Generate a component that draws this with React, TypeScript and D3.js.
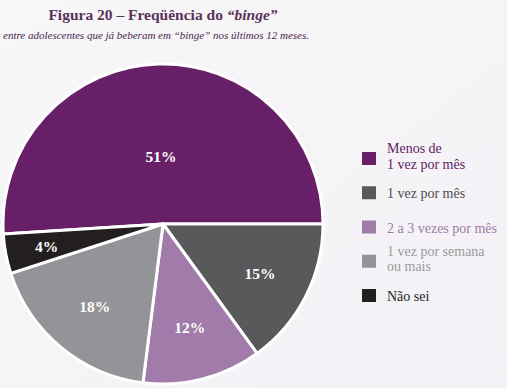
import React, { useEffect, useRef } from "react";
import * as d3 from "d3";

const categories = [
  "Menos de 1 vez por mês",
  "1 vez por mês",
  "2 a 3 vezes por mês",
  "1 vez por semana ou mais",
  "Não sei",
];
const legendLines = [
  ["Menos de", "1 vez por mês"],
  ["1 vez por mês"],
  ["2 a 3 vezes por mês"],
  ["1 vez por semana", "ou mais"],
  ["Não sei"],
];
const values = [51, 15, 12, 18, 4];
const colors = ["#672068", "#59595b", "#a17ba9", "#939497", "#231f20"];
const textColors = ["#5e1e61", "#4d4d4f", "#a07ba8", "#9a9a9d", "#231f20"];

// label distance as fraction of radius
const labelRatio = [0.42, 0.68, 0.67, 0.67, 0.74];

const serif = "'Liberation Serif', 'Times New Roman', serif";

export default function App() {
  const ref = useRef<SVGSVGElement>(null);

  useEffect(() => {
    const width = 507;
    const height = 388;
    const svg = d3.select(ref.current);
    svg.selectAll("*").remove();

    const defs = svg.append("defs");
    const grad = defs.append("linearGradient").attr("id", "bg").attr("x1", 0).attr("y1", 0).attr("x2", 1).attr("y2", 1);
    grad.append("stop").attr("offset", "0%").attr("stop-color", "#f7f6f8");
    grad.append("stop").attr("offset", "100%").attr("stop-color", "#f3f1f5");

    svg.append("rect").attr("width", width).attr("height", height).attr("fill", "url(#bg)");

    svg.append("text")
      .attr("x", 163)
      .attr("y", 20)
      .attr("text-anchor", "middle")
      .style("font-family", serif)
      .attr("font-size", 15.5)
      .attr("font-weight", "bold")
      .attr("fill", "#5a3259")
      .call(t => {
        t.append("tspan").text("Figura 20 – Freqüência do ");
        t.append("tspan").attr("font-style", "italic").text("“binge”");
      });

    svg.append("text")
      .attr("x", 3)
      .attr("y", 39)
      .style("font-family", serif)
      .attr("font-size", 11)
      .attr("font-style", "italic")
      .attr("fill", "#4a1f4e")
      .text("entre adolescentes que já beberam em “binge” nos últimos 12 meses.");

    const cx = 163;
    const cy = 224;
    const r = 160;
    const start = Math.PI / 2 - 2 * Math.PI * (values[0] / d3.sum(values));

    const pie = d3.pie<number>()
      .sort(null)
      .value(d => d)
      .startAngle(start)
      .endAngle(start + 2 * Math.PI);
    const arcs = pie(values);
    const arc = d3.arc<d3.PieArcDatum<number>>().innerRadius(0).outerRadius(r);

    const g = svg.append("g").attr("transform", `translate(${cx},${cy})`);
    g.selectAll("path")
      .data(arcs)
      .enter()
      .append("path")
      .attr("d", arc)
      .attr("fill", (_, i) => colors[i])
      .attr("stroke", "#ffffff")
      .attr("stroke-width", 3)
      .attr("stroke-linejoin", "round");

    g.selectAll("text.lbl")
      .data(arcs)
      .enter()
      .append("text")
      .attr("class", "lbl")
      .attr("transform", (d, i) => {
        const a = (d.startAngle + d.endAngle) / 2;
        const rr = r * labelRatio[i];
        return `translate(${Math.sin(a) * rr},${-Math.cos(a) * rr})`;
      })
      .attr("text-anchor", "middle")
      .attr("dy", "0.35em")
      .style("font-family", serif)
      .attr("font-size", 15.5)
      .attr("font-weight", "bold")
      .attr("fill", "#ffffff")
      .text(d => `${d.data}%`);

    const ly = d3.scalePoint<string>().domain(categories).range([159, 296]);
    const leg = svg.append("g");
    categories.forEach((c, i) => {
      const y = ly(c)!;
      leg.append("rect")
        .attr("x", 362)
        .attr("y", y - 7)
        .attr("width", 14)
        .attr("height", 13)
        .attr("fill", colors[i]);
      const lines = legendLines[i];
      lines.forEach((ln, j) => {
        const off = lines.length === 1 ? 5 : j === 0 ? -6 : 9.5;
        leg.append("text")
          .attr("x", 387)
          .attr("y", y + off)
          .style("font-family", serif)
          .attr("font-size", 14)
          .attr("fill", textColors[i])
          .text(ln);
      });
    });
  }, []);

  return (
    <div style={{ position: "fixed", left: 0, top: 0 }}>
      <svg ref={ref} width={507} height={388} style={{ display: "block" }} />
    </div>
  );
}
